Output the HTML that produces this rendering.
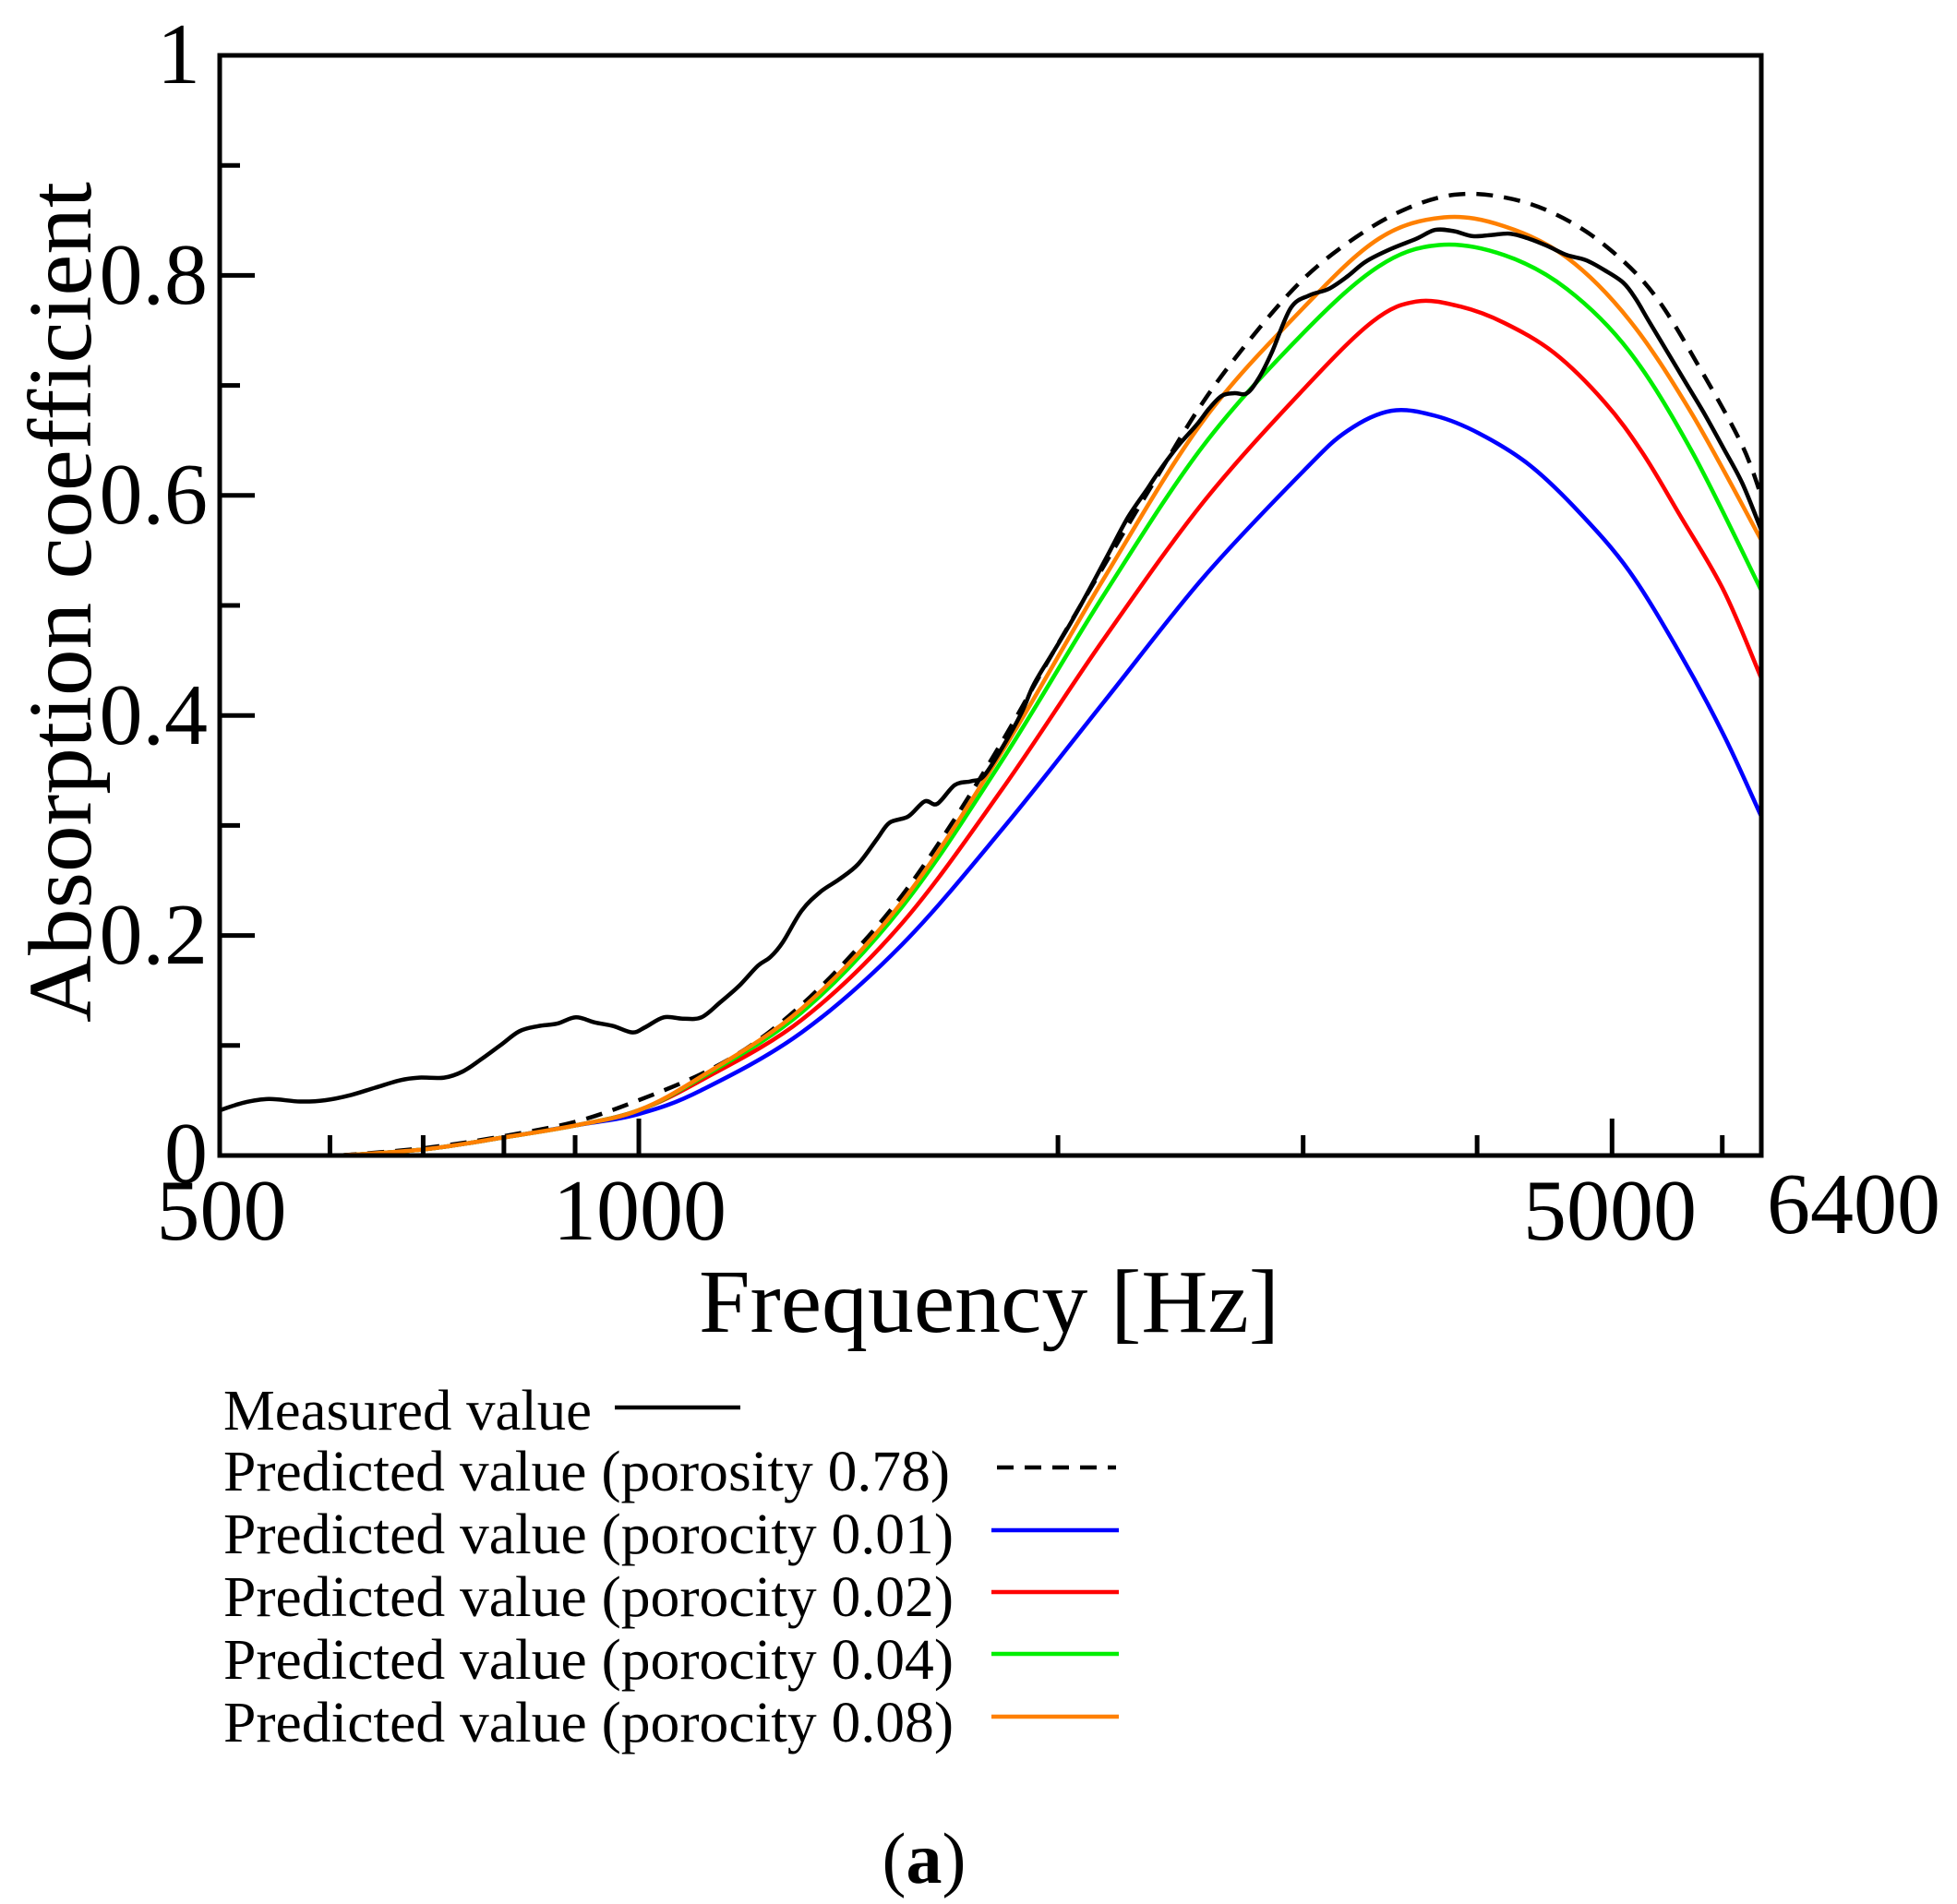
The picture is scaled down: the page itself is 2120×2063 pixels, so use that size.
<!DOCTYPE html>
<html><head><meta charset="utf-8">
<style>
html,body{margin:0;padding:0;background:#fff;}
svg{display:block;}
text{font-family:"Liberation Serif",serif;fill:#000;}
</style></head>
<body>
<svg id="s" width="2120" height="2063" viewBox="0 0 2120 2063" xmlns="http://www.w3.org/2000/svg">
<rect width="2120" height="2063" fill="#fff"/>
<g id="curves" fill="none" stroke-linejoin="round" stroke-linecap="butt"></g>
<rect x="238" y="60" width="1670" height="1192" fill="none" stroke="#000" stroke-width="5"/>
<g id="ticks" stroke="#000" stroke-width="5"></g>
<g font-size="94">
<text x="217" y="90" text-anchor="end">1</text>
<text x="225" y="329" text-anchor="end">0.8</text>
<text x="225" y="567" text-anchor="end">0.6</text>
<text x="225" y="806" text-anchor="end">0.4</text>
<text x="225" y="1044" text-anchor="end">0.2</text>
<text x="225" y="1281" text-anchor="end">0</text>
<text x="240" y="1343" text-anchor="middle">500</text>
<text x="693" y="1343" text-anchor="middle">1000</text>
<text x="1744" y="1343" text-anchor="middle">5000</text>
<text x="2008" y="1336" text-anchor="middle">6400</text>
</g>
<text x="757" y="1443" font-size="98" textLength="629" lengthAdjust="spacingAndGlyphs">Frequency [Hz]</text>
<text transform="translate(98,1108) rotate(-90)" font-size="98" textLength="911" lengthAdjust="spacingAndGlyphs">Absorption coefficient</text>
<g font-size="62">
<text x="242" y="1549" textLength="399" lengthAdjust="spacingAndGlyphs">Measured value</text>
<text x="242" y="1615" textLength="787" lengthAdjust="spacingAndGlyphs">Predicted value (porosity 0.78)</text>
<text x="242" y="1683" textLength="791" lengthAdjust="spacingAndGlyphs">Predicted value (porocity 0.01)</text>
<text x="242" y="1751" textLength="791" lengthAdjust="spacingAndGlyphs">Predicted value (porocity 0.02)</text>
<text x="242" y="1819" textLength="791" lengthAdjust="spacingAndGlyphs">Predicted value (porocity 0.04)</text>
<text x="242" y="1887" textLength="791" lengthAdjust="spacingAndGlyphs">Predicted value (porocity 0.08)</text>
</g>
<g stroke-width="4.5">
<line x1="666" y1="1525" x2="802" y2="1525" stroke="#000"/>
<line x1="1080" y1="1590" x2="1209" y2="1590" stroke="#000" stroke-dasharray="18,12"/>
<line x1="1074" y1="1658" x2="1212" y2="1658" stroke="#0000ff"/>
<line x1="1074" y1="1725" x2="1212" y2="1725" stroke="#ff0000"/>
<line x1="1074" y1="1792" x2="1212" y2="1792" stroke="#00ee00"/>
<line x1="1074" y1="1860" x2="1212" y2="1860" stroke="#ff8000"/>
</g>
<text x="1001" y="2040" font-size="78" text-anchor="middle">(<tspan font-weight="bold">a</tspan>)</text>
</svg>
<script>
(function(){
var NS="http://www.w3.org/2000/svg";
function X(x){return 238+(x-176)*1670/1229;}
function Y(y){return 60+(y-44)*1192/876;}
function path(pts){
  var p=pts.map(function(a){return [X(a[0]),Y(a[1])];});
  var d="M"+p[0][0].toFixed(1)+","+p[0][1].toFixed(1);
  for(var i=0;i<p.length-1;i++){
    var p0=p[i-1]||p[i],p1=p[i],p2=p[i+1],p3=p[i+2]||p[i+1];
    var c1=[p1[0]+(p2[0]-p0[0])/6,p1[1]+(p2[1]-p0[1])/6];
    var c2=[p2[0]-(p3[0]-p1[0])/6,p2[1]-(p3[1]-p1[1])/6];
    d+="C"+c1[0].toFixed(1)+","+c1[1].toFixed(1)+" "+c2[0].toFixed(1)+","+c2[1].toFixed(1)+" "+p2[0].toFixed(1)+","+p2[1].toFixed(1);
  }
  return d;
}
var low=[[272,920],[340,915],[400,906],[460,896],[510,884]];
var S=[
 {c:"#0000ff",p:low.slice(0,4).concat([[510,887],[560,868],[640,822],[720,752],[800,660],[880,560],[960,460],[1040,375],[1075,343],[1110,327],[1145,331],[1180,345],[1220,370],[1260,408],[1300,455],[1340,520],[1375,585],[1405,650]])},
 {c:"#ff0000",p:low.concat([[560,860],[640,812],[720,735],[800,628],[880,510],[960,400],[1040,310],[1095,256],[1130,240],[1165,244],[1200,257],[1240,281],[1280,320],[1310,360],[1340,410],[1375,470],[1405,540]])},
 {c:"#00ee00",p:low.concat([[560,858],[640,806],[720,722],[800,605],[880,475],[960,355],[1040,265],[1100,212],[1148,195],[1200,203],[1250,230],[1300,280],[1350,360],[1405,470]])},
 {c:"#000",dash:"18,12",p:[[272,920],[340,914],[400,905],[460,893],[510,876],[560,855],[600,832],[640,800],[680,760],[720,713],[760,655],[800,590],[840,520],[880,452],[920,385],[960,320],[1000,267],[1040,222],[1080,190],[1120,167],[1160,155],[1200,157],[1240,170],[1280,195],[1320,235],[1360,300],[1390,355],[1405,395]]},
 {c:"#ff8000",p:low.concat([[560,857],[640,803],[720,718],[800,598],[880,462],[960,335],[1040,245],[1100,190],[1152,173],[1200,180],[1250,205],[1300,255],[1350,330],[1405,430]])},
 {c:"#000",p:[[176,884],[195,878],[215,875],[240,877],[260,876],[280,872],[300,866],[320,860],[335,858],[355,858],[370,853],[385,843],[400,832],[415,821],[430,817],[445,815],[460,810],[475,814],[490,817],[505,822],[515,818],[530,810],[545,811],[560,810],[575,798],[590,785],[605,769],[615,762],[625,750],[640,725],[655,710],[670,700],[685,688],[700,668],[710,655],[725,650],[738,638],[748,640],[762,625],[775,622],[785,618],[800,595],[815,568],[825,545],[840,520],[855,495],[870,468],[885,440],[900,412],[915,390],[925,375],[940,355],[955,338],[965,325],[975,315],[985,313],[995,313],[1005,300],[1015,280],[1030,245],[1045,235],[1060,230],[1075,220],[1090,208],[1110,198],[1130,190],[1145,183],[1160,184],[1175,188],[1190,187],[1205,186],[1220,190],[1235,196],[1250,203],[1265,207],[1280,215],[1295,225],[1305,238],[1315,255],[1330,280],[1345,305],[1360,330],[1375,357],[1390,385],[1405,422]]}
];
var g=document.getElementById("curves");
S.forEach(function(s){
  var e=document.createElementNS(NS,"path");
  e.setAttribute("d",path(s.p));e.setAttribute("stroke",s.c);e.setAttribute("stroke-width","4.5");
  if(s.dash)e.setAttribute("stroke-dasharray",s.dash);
  g.appendChild(e);
});
var t=document.getElementById("ticks");
function ln(x1,y1,x2,y2){var e=document.createElementNS(NS,"line");e.setAttribute("x1",x1);e.setAttribute("y1",y1);e.setAttribute("x2",x2);e.setAttribute("y2",y2);t.appendChild(e);}
var ppd=1670/Math.log10(12.8);
[600,700,800,900,1000,2000,3000,4000,5000,6000].forEach(function(f){
  var x=238+Math.log10(f/500)*ppd;var L=(f==1000||f==5000)?40:22;ln(x,1252,x,1252-L);
});
for(var i=1;i<10;i++){var y=1252-i*119.2;ln(238,y,238+(i%2==0?38:22),y);}
})();
</script>
</body></html>
